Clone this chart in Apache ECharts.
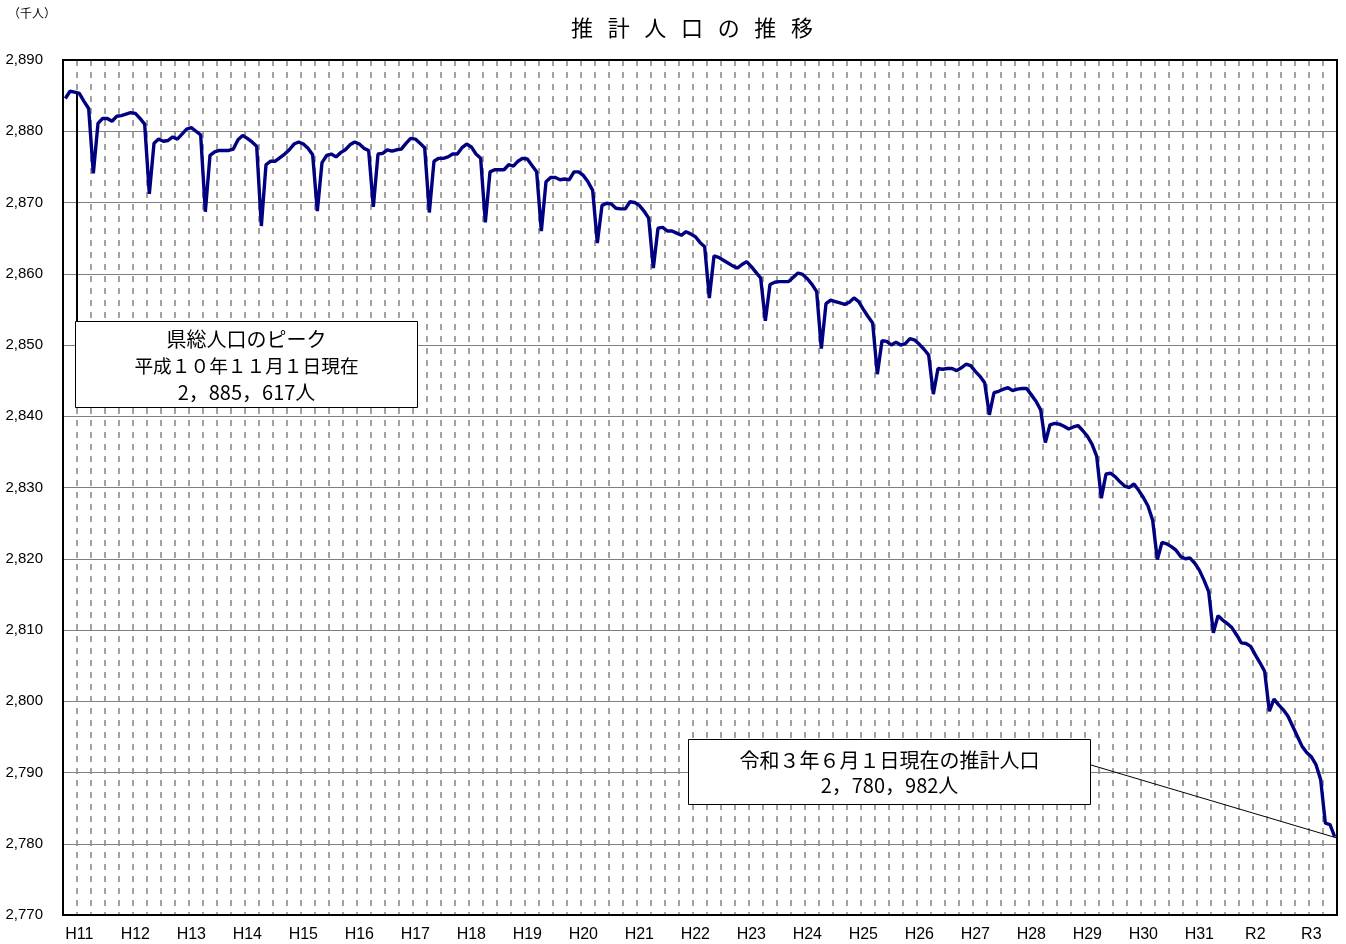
<!DOCTYPE html>
<html><head><meta charset="utf-8">
<script src="https://cdn.jsdelivr.net/npm/echarts@6/dist/echarts.min.js"></script>
<style>html,body{margin:0;padding:0;background:#fff}#c{width:1346px;height:944px}</style>
</head><body><div id="c"></div>
<script>
// Year tick labels (shown at January of each year 1999..2021)
const yearLabels = ['H11','H12','H13','H14','H15','H16','H17','H18','H19','H20','H21','H22','H23','H24','H25','H26','H27','H28','H29','H30','H31','R2','R3'];
const firstLabelYear = 1999;

// Monthly estimated population (thousand persons), 1st day of each month
const pop1998 = [2884.6, 2885.617, 2885.5];               // Oct-Dec
const pop1999 = [2885.3, 2884.2, 2883.2, 2874.1, 2881.1, 2881.8, 2881.8, 2881.4, 2882.1, 2882.2, 2882.4, 2882.6];
const pop2000 = [2882.5, 2881.8, 2881.0, 2871.2, 2878.3, 2878.9, 2878.6, 2878.7, 2879.2, 2878.9, 2879.6, 2880.3];
const pop2001 = [2880.5, 2880.0, 2879.5, 2868.7, 2876.6, 2877.1, 2877.3, 2877.3, 2877.3, 2877.5, 2878.8, 2879.4];
const pop2002 = [2879.0, 2878.5, 2877.9, 2866.7, 2875.3, 2875.8, 2875.8, 2876.3, 2876.8, 2877.4, 2878.2, 2878.5];
const pop2003 = [2878.2, 2877.6, 2876.7, 2868.8, 2875.6, 2876.6, 2876.8, 2876.4, 2877.0, 2877.4, 2878.1, 2878.5];
const pop2004 = [2878.2, 2877.6, 2877.3, 2869.4, 2876.8, 2876.9, 2877.4, 2877.2, 2877.4, 2877.5, 2878.3, 2879.0];
const pop2005 = [2878.9, 2878.3, 2877.7, 2868.6, 2875.8, 2876.2, 2876.2, 2876.4, 2876.8, 2876.8, 2877.7, 2878.2];
const pop2006 = [2877.8, 2876.8, 2876.2, 2867.2, 2874.3, 2874.6, 2874.6, 2874.6, 2875.3, 2875.1, 2875.8, 2876.2];
const pop2007 = [2876.1, 2875.2, 2874.3, 2866.0, 2872.9, 2873.5, 2873.5, 2873.2, 2873.3, 2873.2, 2874.3, 2874.3];
const pop2008 = [2873.8, 2872.9, 2871.7, 2864.3, 2869.6, 2869.9, 2869.8, 2869.2, 2869.1, 2869.1, 2870.1, 2870.0];
const pop2009 = [2869.6, 2868.8, 2867.8, 2860.8, 2866.4, 2866.5, 2866.0, 2866.0, 2865.7, 2865.4, 2865.9, 2865.6];
const pop2010 = [2865.2, 2864.4, 2863.8, 2856.6, 2862.5, 2862.3, 2861.9, 2861.5, 2861.1, 2860.8, 2861.3, 2861.7];
const pop2011 = [2861.0, 2860.2, 2859.4, 2853.4, 2858.5, 2858.8, 2858.9, 2858.9, 2858.9, 2859.5, 2860.1, 2859.9];
const pop2012 = [2859.3, 2858.5, 2857.5, 2849.5, 2855.8, 2856.3, 2856.1, 2855.9, 2855.7, 2856.0, 2856.6, 2856.1];
const pop2013 = [2855.0, 2854.0, 2853.1, 2845.9, 2850.6, 2850.5, 2850.0, 2850.4, 2850.0, 2850.2, 2850.9, 2850.7];
const pop2014 = [2850.1, 2849.4, 2848.6, 2843.1, 2846.7, 2846.6, 2846.7, 2846.7, 2846.4, 2846.8, 2847.3, 2847.1];
const pop2015 = [2846.3, 2845.6, 2844.7, 2840.2, 2843.3, 2843.5, 2843.8, 2844.0, 2843.6, 2843.8, 2843.9, 2843.9];
const pop2016 = [2843.0, 2842.1, 2840.9, 2836.3, 2838.8, 2839.0, 2838.9, 2838.6, 2838.2, 2838.5, 2838.7, 2838.0];
const pop2017 = [2837.2, 2836.1, 2834.4, 2828.5, 2831.9, 2832.0, 2831.5, 2830.8, 2830.2, 2830.0, 2830.5, 2829.6];
const pop2018 = [2828.6, 2827.4, 2825.4, 2819.9, 2822.3, 2822.1, 2821.7, 2821.2, 2820.3, 2820.0, 2820.1, 2819.4];
const pop2019 = [2818.4, 2817.0, 2815.4, 2809.6, 2812.0, 2811.4, 2810.9, 2810.3, 2809.3, 2808.2, 2808.1, 2807.7];
const pop2020 = [2806.5, 2805.4, 2804.2, 2798.6, 2800.3, 2799.5, 2798.8, 2797.9, 2796.5, 2795.1, 2793.7, 2792.8];
const pop2021 = [2792.2, 2791.1, 2789.0, 2782.9, 2782.7, 2780.982];   // Jan-Jun

const yearly = [
  [1998, 10, pop1998], [1999, 1, pop1999], [2000, 1, pop2000], [2001, 1, pop2001], [2002, 1, pop2002],
  [2003, 1, pop2003], [2004, 1, pop2004], [2005, 1, pop2005], [2006, 1, pop2006], [2007, 1, pop2007],
  [2008, 1, pop2008], [2009, 1, pop2009], [2010, 1, pop2010], [2011, 1, pop2011], [2012, 1, pop2012],
  [2013, 1, pop2013], [2014, 1, pop2014], [2015, 1, pop2015], [2016, 1, pop2016], [2017, 1, pop2017],
  [2018, 1, pop2018], [2019, 1, pop2019], [2020, 1, pop2020], [2021, 1, pop2021]
];
const categories = [];
const values = [];
yearly.forEach(([y, m0, arr]) => {
  arr.forEach((v, k) => {
    const m = m0 + k;
    categories.push(y + '-' + (m < 10 ? '0' + m : '' + m));
    values.push(v);
  });
});

const chart = echarts.init(document.getElementById('c'), null, {renderer: 'canvas'});
const jp = "'Noto Sans CJK JP', sans-serif";
const T = '\u2002\u2006';
chart.setOption({
  animation: false,
  backgroundColor: '#fff',
  title: {
    text: ['推','計','人','口','の','推','移'].join(T),
    left: 566, top: 12,
    textStyle: {fontFamily: jp, fontSize: 22, fontWeight: 'normal', color: '#000'}
  },
  grid: {left: 63, right: 9, top: 60, bottom: 29, show: true, borderColor: '#000', borderWidth: 2, backgroundColor: 'transparent'},
  xAxis: {
    type: 'category',
    data: categories,
    boundaryGap: true,
    axisLine: {show: true, lineStyle: {color: '#000', width: 2}},
    axisTick: {show: false},
    axisLabel: {
      interval: (i, v) => v.slice(5) === '01',
      formatter: (v) => yearLabels[parseInt(v.slice(0, 4), 10) - firstLabelYear],
      fontFamily: "'Liberation Sans Narrow', 'Liberation Sans', sans-serif",
      fontSize: 16, color: '#000', margin: 12
    },
    splitLine: {
      show: true,
      interval: (i) => i % 3 === 0 && i > 0 && i < categories.length,
      lineStyle: {color: '#8c8c8c', width: 1.6, type: [6, 6]}
    }
  },
  yAxis: {
    type: 'value',
    min: 2770, max: 2890, interval: 10,
    axisLine: {show: true, lineStyle: {color: '#000', width: 2}},
    axisTick: {show: false},
    axisLabel: {
      formatter: (v) => v.toLocaleString('en-US'),
      fontFamily: "'Liberation Sans', sans-serif", fontSize: 15, color: '#000', margin: 20
    },
    splitLine: {show: true, lineStyle: {color: '#808080', width: 1}}
  },
  series: [{
    type: 'line',
    data: values,
    showSymbol: false,
    smooth: false,
    lineStyle: {color: '#000080', width: 3.4},
    itemStyle: {color: '#000080'},
    z: 3
  }],
  graphic: [
    {type: 'text', left: 8, top: 7, style: {text: '（千人）', fontFamily: jp, fontSize: 12, fill: '#000'}},
    {type: 'line', z: 50, shape: {x1: 77, y1: 94, x2: 77, y2: 321}, style: {stroke: '#000', lineWidth: 2}},
    {type: 'rect', z: 60, shape: {x: 75.5, y: 321.5, width: 342, height: 86}, style: {fill: '#fff', stroke: '#000', lineWidth: 1}},
    {type: 'text', z: 61, x: 246.5, y: 365.5, style: {
      text: '県総人口のピーク\n{s|平成１０年１１月１日現在}\n2，885，617人',
      rich: {s: {fontFamily: jp, fontSize: 18.7, fill: '#000'}},
      fontFamily: jp, fontSize: 20, lineHeight: 26.5, align: 'center', verticalAlign: 'middle', fill: '#000'}},
    {type: 'line', z: 50, shape: {x1: 1091, y1: 765, x2: 1337, y2: 838}, style: {stroke: '#000', lineWidth: 1}},
    {type: 'rect', z: 60, shape: {x: 688.5, y: 739.5, width: 402, height: 65}, style: {fill: '#fff', stroke: '#000', lineWidth: 1}},
    {type: 'text', z: 61, x: 889.5, y: 773, style: {
      text: '令和３年６月１日現在の推計人口\n2，780，982人',
      fontFamily: jp, fontSize: 20, lineHeight: 25, align: 'center', verticalAlign: 'middle', fill: '#000'}},
    {type: 'rect', z: 70, silent: true, shape: {x: 63, y: 60, width: 1274, height: 855}, style: {fill: null, stroke: '#000', lineWidth: 2}}
  ]
});
</script>
</body></html>
